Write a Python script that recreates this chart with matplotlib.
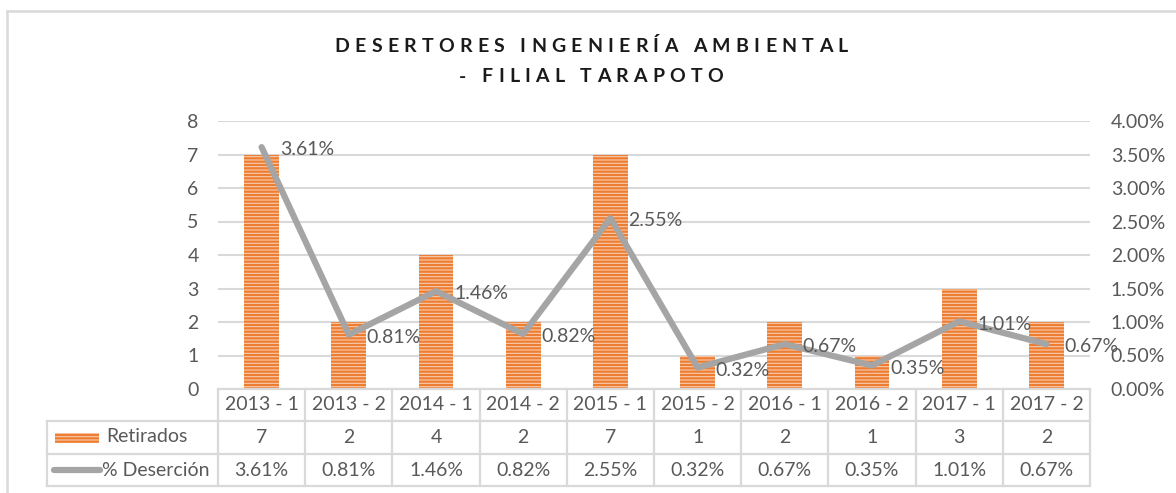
import matplotlib
matplotlib.use("Agg")
import matplotlib.pyplot as plt
from matplotlib.lines import Line2D
from matplotlib.patches import Rectangle
from matplotlib.ticker import FuncFormatter, MultipleLocator
from matplotlib.font_manager import FontProperties

# Data
categories = ["2013 - 1", "2013 - 2", "2014 - 1", "2014 - 2", "2015 - 1",
              "2015 - 2", "2016 - 1", "2016 - 2", "2017 - 1", "2017 - 2"]
retirados = [7, 2, 4, 2, 7, 1, 2, 1, 3, 2]
desercion = [3.61, 0.81, 1.46, 0.82, 2.55, 0.32, 0.67, 0.35, 1.01, 0.67]  # percent
series_names = ["Retirados", "% Deserción"]
title_lines = ["DESERTORES INGENIERÍA AMBIENTAL", "- FILIAL TARAPOTO"]

W, H = 1176, 493
TXT = "#595959"
GRID = "#D9D9D9"
ORANGE = "#ED7D31"
BAR_FACE = "#F8CBAD"
LINE_C = "#A5A5A5"
FONT = "Lato"
FS = 14

plt.rcParams["font.family"] = [FONT, "DejaVu Sans"]
plt.rcParams["hatch.linewidth"] = 1.6
plt.rcParams["hatch.color"] = ORANGE

fig = plt.figure(figsize=(W / 100, H / 100), dpi=100)


def fx(px):
    return px / W


def fy(py):
    return 1 - py / H


# plot area in pixel coordinates
left_px, right_px, top_px, bot_px = 218, 1090, 121, 389
ax = fig.add_axes([fx(left_px), fy(bot_px), fx(right_px - left_px), (bot_px - top_px) / H])
n = len(categories)
x = list(range(n))

ax.bar(x, retirados, width=0.4, color=BAR_FACE, edgecolor=ORANGE,
       linewidth=0, hatch="-----", zorder=2)
ax.set_xlim(-0.5, n - 0.5)
ax.set_ylim(0, 8)
ax.yaxis.set_major_locator(MultipleLocator(1))
ax.grid(axis="y", color=GRID, linewidth=1.5, zorder=0)
ax.set_axisbelow(True)
for s in ax.spines.values():
    s.set_visible(False)
ax.set_xticks([])
ax.tick_params(axis="y", length=0, pad=14, labelsize=FS, labelcolor=TXT)

ax2 = ax.twinx()
ax2.set_ylim(0, 4)
ax2.yaxis.set_major_locator(MultipleLocator(0.5))
ax2.yaxis.set_major_formatter(FuncFormatter(lambda v, p: f"{v:.2f}%"))
ax2.tick_params(axis="y", length=0, pad=15, labelsize=FS, labelcolor=TXT)
for s in ax2.spines.values():
    s.set_visible(False)
ax2.plot(x, desercion, color=LINE_C, linewidth=4.5, solid_capstyle="round",
         solid_joinstyle="round", zorder=3)
for xi, v in zip(x, desercion):
    ax2.annotate(f"{v:.2f}%", (xi, v), xytext=(13, -2), textcoords="offset points",
                 ha="left", va="center", fontsize=FS, color=TXT, zorder=4)

# Title with wide letter spacing: glyphs placed one by one with an even gap
title_prop = FontProperties(family=FONT, weight="bold", size=14)
renderer = fig.canvas.get_renderer()
SPACE_W = 5.0


def layout_line(line, cy, gap):
    arts, xpos = [], 0.0
    for ch in line:
        if ch == " ":
            xpos += SPACE_W + gap
            continue
        t = fig.text(0, fy(cy), ch, ha="left", va="center",
                     fontproperties=title_prop, color="#1a1a1a")
        w = t.get_window_extent(renderer).width
        arts.append((t, xpos))
        xpos += w + gap
    return arts, xpos - gap


# measure first line without tracking to find the gap that spans 513 px
probe, raw_w = layout_line(title_lines[0], 46, 0.0)
for t, _ in probe:
    t.remove()
gap = (513 - raw_w) / (len(title_lines[0]) - 1)

for line, cy in zip(title_lines, (46, 77)):
    arts, total = layout_line(line, cy, gap)
    x0 = 591 - total / 2
    for t, xp in arts:
        t.set_x(fx(x0 + xp))

# Chart border
fig.add_artist(Line2D([fx(7), fx(7)], [fy(11), fy(493)], color=GRID, linewidth=1.8))
fig.add_artist(Line2D([fx(7), fx(1176)], [fy(11), fy(11)], color=GRID, linewidth=1.8))

# Data table
col_w = (right_px - left_px) / n
row_y = [389, 421, 454, 486]
tab_left = 47
lw = 1.6
fig.add_artist(Line2D([fx(left_px), fx(right_px)], [fy(row_y[0])] * 2, color=GRID, linewidth=lw))
for yy in row_y[1:]:
    fig.add_artist(Line2D([fx(tab_left), fx(right_px)], [fy(yy)] * 2, color=GRID, linewidth=lw))
for k in range(n + 1):
    xx = left_px + k * col_w
    fig.add_artist(Line2D([fx(xx)] * 2, [fy(row_y[0]), fy(row_y[3])], color=GRID, linewidth=lw))
fig.add_artist(Line2D([fx(tab_left)] * 2, [fy(row_y[1]), fy(row_y[3])], color=GRID, linewidth=lw))

for k in range(n):
    cx = left_px + (k + 0.5) * col_w
    fig.text(fx(cx), fy((row_y[0] + row_y[1]) / 2), categories[k], ha="center", va="center",
             fontsize=FS, color=TXT)
    fig.text(fx(cx), fy((row_y[1] + row_y[2]) / 2), f"{retirados[k]}", ha="center", va="center",
             fontsize=FS, color=TXT)
    fig.text(fx(cx), fy((row_y[2] + row_y[3]) / 2), f"{desercion[k]:.2f}%", ha="center", va="center",
             fontsize=FS, color=TXT)

# legend keys inside the table
fig.add_artist(Rectangle((fx(55), fy(443)), fx(44), 10 / H, facecolor=BAR_FACE,
                         edgecolor=ORANGE, linewidth=0, hatch="-----"))
fig.add_artist(Line2D([fx(54), fx(100)], [fy(470)] * 2, color=LINE_C, linewidth=4.5,
                      solid_capstyle="round"))
fig.text(fx(106), fy(437), series_names[0], ha="left", va="center", fontsize=FS, color=TXT)
fig.text(fx(102), fy(470), series_names[1], ha="left", va="center", fontsize=FS, color=TXT)

fig.savefig("out.png", dpi=100)
